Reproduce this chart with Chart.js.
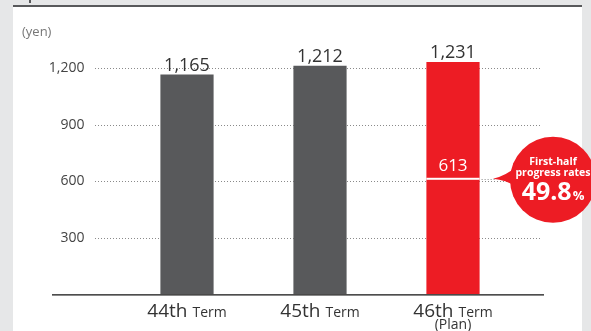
<!DOCTYPE html>
<html>
<head>
<meta charset="utf-8">
<script src="https://cdn.jsdelivr.net/npm/chart.js@4.4.0/dist/chart.umd.min.js"></script>
<style>
  html, body { margin: 0; padding: 0; background: #e6e7e8; }
  #wrap { width: 591px; height: 331px; }
</style>
</head>
<body>
<div id="wrap"><canvas id="dividend-chart" width="591" height="331"></canvas></div>
<script>
(function () {
    "use strict";

    // Dividend per share by term
    var terms = ["44th", "45th", "46th"];
    var termNotes = ["", "", "(Plan)"];
    var dividends = [1165, 1212, 1231];
    var barColors = ["#58595b", "#58595b", "#ed1c24"];
    var yTicks = [300, 600, 900, 1200];

    // First-half result of the plan term
    var firstHalf = 613;
    var progressRate = "49.8";

    var FONT = "'Open Sans', 'Noto Sans', sans-serif";
    var RED = "#ed1c24";

    function fmt(v) {
        return v.toLocaleString("en-US");
    }

    var decor = {
        id: "decor",
        beforeDraw: function (chart) {
            var c = chart.ctx;
            c.save();
            c.fillStyle = "#e6e7e8";
            c.fillRect(0, 0, chart.width, chart.height);
            c.fillStyle = "#ffffff";
            c.fillRect(13, 6, 569, 325);
            c.fillStyle = "#58595b";
            c.fillRect(13, 5, 569, 2);
            c.fillRect(29, 0, 2, 3);

            c.fillStyle = "#777777";
            c.font = "13px " + FONT;
            c.textAlign = "left";
            c.textBaseline = "alphabetic";
            c.fillText("(yen)", 22, 36);
            c.restore();
        },
        beforeDatasetsDraw: function (chart) {
            // dotted grid lines, wider than the plot area
            var c = chart.ctx, y = chart.scales.y;
            c.save();
            c.strokeStyle = "#8a8a8a";
            c.lineWidth = 1;
            c.setLineDash([1, 2]);
            yTicks.forEach(function (v) {
                var py = Math.round(y.getPixelForValue(v)) + 0.5;
                c.beginPath();
                c.moveTo(95, py);
                c.lineTo(541, py);
                c.stroke();
            });
            c.restore();
        },
        afterDatasetsDraw: function (chart) {
            var c = chart.ctx, y = chart.scales.y;
            var bars = chart.getDatasetMeta(0).data;
            c.save();

            // base line
            var by = y.getPixelForValue(0);
            c.fillStyle = "#3a3a3a";
            c.fillRect(52, by - 0.5, 492, 1.5);

            // values over bars
            c.fillStyle = "#333333";
            c.font = "18px " + FONT;
            c.textAlign = "center";
            c.textBaseline = "alphabetic";
            bars.forEach(function (b, i) {
                c.fillText(fmt(dividends[i]), b.x, b.y - 4);
            });

            // term labels
            bars.forEach(function (b, i) {
                var big = "19px " + FONT, small = "500 14px " + FONT;
                c.font = big;
                var w1 = c.measureText(terms[i]).width;
                c.font = small;
                var w2 = c.measureText("Term").width;
                var x0 = b.x - (w1 + 5 + w2) / 2;
                c.textAlign = "left";
                c.fillStyle = "#333333";
                c.font = big;
                c.fillText(terms[i], x0, 317);
                c.font = small;
                c.fillText("Term", x0 + w1 + 5, 317);
                if (termNotes[i]) {
                    c.textAlign = "center";
                    c.font = "14px " + FONT;
                    c.fillText(termNotes[i], b.x, 329);
                }
            });

            // first-half marker on the plan bar
            var last = bars[bars.length - 1];
            var hy = y.getPixelForValue(firstHalf);
            var half = last.width / 2;
            c.fillStyle = "#ffffff";
            c.fillRect(last.x - half, hy - 1, last.width, 2);
            c.font = "17px " + FONT;
            c.textAlign = "center";
            c.fillText(fmt(firstHalf), last.x, hy - 8);

            c.strokeStyle = "#8a8a8a";
            c.lineWidth = 1;
            c.setLineDash([1, 2]);
            c.beginPath();
            c.moveTo(last.x + half + 2, Math.round(hy) + 0.5);
            c.lineTo(496, Math.round(hy) + 0.5);
            c.stroke();
            c.setLineDash([]);

            // progress bubble
            var cx = 553, cy = hy + 1, r = 43;
            c.fillStyle = RED;
            c.beginPath();
            c.moveTo(493, hy);
            c.quadraticCurveTo(506, hy - 3, 516, hy - 12);
            c.lineTo(516, hy + 8);
            c.quadraticCurveTo(506, hy + 1, 493, hy);
            c.fill();
            c.beginPath();
            c.arc(cx, cy, r, 0, Math.PI * 2);
            c.fill();

            c.fillStyle = "#ffffff";
            c.font = "bold 10.5px " + FONT;
            c.fillText("First-half", cx, cy - 15);
            c.fillText("progress rates", cx, cy - 4);

            var numFont = "bold 25px " + FONT, pctFont = "bold 13px " + FONT;
            c.font = numFont;
            var nw = c.measureText(progressRate).width;
            c.font = pctFont;
            var pw = c.measureText("%").width;
            var sx = cx - (nw + pw + 1) / 2;
            c.textAlign = "left";
            c.font = numFont;
            c.fillText(progressRate, sx, cy + 20);
            c.font = pctFont;
            c.fillText("%", sx + nw + 1, cy + 20);

            c.restore();
        }
    };

    var ctx = document.getElementById("dividend-chart").getContext("2d");
    var myChart = new Chart(ctx, {
        type: "bar",
        data: {
            labels: terms,
            datasets: [{
                data: dividends,
                backgroundColor: barColors,
                barPercentage: 0.4,
                categoryPercentage: 1
            }]
        },
        options: {
            responsive: false,
            animation: false,
            layout: {
                padding: { top: 49, bottom: 35.5, left: 0, right: 71.5 }
            },
            plugins: {
                legend: { display: false },
                tooltip: { enabled: false }
            },
            scales: {
                x: { display: false },
                y: {
                    min: 0,
                    max: 1300,
                    afterBuildTicks: function (s) {
                        s.ticks = yTicks.map(function (v) { return { value: v }; });
                    },
                    afterFit: function (s) {
                        s.width = 120.5;
                    },
                    grid: { display: false },
                    border: { display: false },
                    ticks: {
                        padding: 28,
                        color: "#444444",
                        font: { family: FONT, size: 14 },
                        callback: function (v) { return fmt(v); }
                    }
                }
            }
        },
        plugins: [decor]
    });
})();
</script>
</body>
</html>
